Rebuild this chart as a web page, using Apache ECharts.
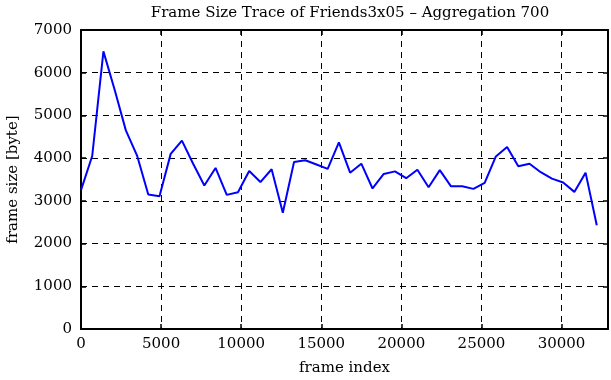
<!DOCTYPE html>
<html><head><meta charset="utf-8">
<script src="https://cdn.jsdelivr.net/npm/echarts@6/dist/echarts.min.js"></script>
<style>html,body{margin:0;padding:0;background:#fff;}#c{width:611px;height:380px;}</style>
</head><body><div id="c"></div>
<script>
var frameIndex = [0,700,1400,2100,2800,3500,4200,4900,5600,6300,7000,7700,8400,9100,9800,10500,11200,11900,12600,13300,14000,14700,15400,16100,16800,17500,18200,18900,19600,20300,21000,21700,22400,23100,23800,24500,25200,25900,26600,27300,28000,28700,29400,30100,30800,31500,32200];
var frameSize = [3250,4050,6500,5600,4650,4060,3150,3110,4100,4410,3870,3360,3770,3140,3200,3700,3440,3740,2720,3910,3950,3850,3750,4370,3660,3870,3290,3630,3690,3530,3730,3320,3720,3340,3340,3280,3420,4040,4260,3810,3870,3670,3520,3430,3210,3660,2430];
var xTicks = [0,5000,10000,15000,20000,25000,30000];
var yTicks = [0,1000,2000,3000,4000,5000,6000,7000];

var pts = frameIndex.map(function(x,i){return [x, frameSize[i]];});
var font = 'DejaVu Serif';
var dashed = {show:true, lineStyle:{color:'#000', type:[6,5], width:1}};
function fmt(v){ return String(v); }
var chart = echarts.init(document.getElementById('c'), null, {renderer:'canvas'});
chart.setOption({
  animation:false,
  backgroundColor:'#fff',
  title:{text:'Frame Size Trace of Friends3x05 \u2013 Aggregation 700', left:345, top:1, textAlign:'center',
    textStyle:{fontFamily:font, fontWeight:'normal', fontSize:15, color:'#000'}},
  grid:{left:81, right:3, top:30, bottom:51, containLabel:false, outerBoundsMode:'none'},
  xAxis:[{type:'value', min:0, max:32900, interval:5000,
    name:'frame index', nameLocation:'middle', nameGap:32,
    nameTextStyle:{fontFamily:font, fontSize:15, color:'#000'},
    axisLine:{show:true, onZero:false, lineStyle:{color:'#000', width:2}},
    axisTick:{show:true, inside:true, length:5, lineStyle:{color:'#000', width:1.5}},
    axisLabel:{fontFamily:font, fontSize:15, color:'#000', margin:8, showMaxLabel:false, formatter:fmt},
    splitLine:dashed},
   {type:'value', position:'top', min:0, max:32900, interval:5000,
    axisLine:{show:true, onZero:false, lineStyle:{color:'#000', width:2}},
    axisTick:{show:true, inside:true, length:5, lineStyle:{color:'#000', width:1.5}},
    axisLabel:{show:false}, splitLine:{show:false}}],
  yAxis:[{type:'value', min:0, max:7000, interval:1000,
    name:'frame size [byte]', nameLocation:'middle', nameGap:60, nameRotate:90,
    nameTextStyle:{fontFamily:font, fontSize:15, color:'#000'},
    axisLine:{show:true, onZero:false, lineStyle:{color:'#000', width:2}},
    axisTick:{show:true, inside:true, length:5, lineStyle:{color:'#000', width:1.5}},
    axisLabel:{fontFamily:font, fontSize:15, color:'#000', margin:9, formatter:fmt},
    splitLine:dashed},
   {type:'value', position:'right', min:0, max:7000, interval:1000,
    axisLine:{show:true, onZero:false, lineStyle:{color:'#000', width:2}},
    axisTick:{show:true, inside:true, length:5, lineStyle:{color:'#000', width:1.5}},
    axisLabel:{show:false}, splitLine:{show:false}}],
  series:[{type:'line', data:pts, xAxisIndex:0, yAxisIndex:0, showSymbol:false, symbol:'none',
    lineStyle:{color:'#0000ff', width:2}, z:5}]
});
</script></body></html>
